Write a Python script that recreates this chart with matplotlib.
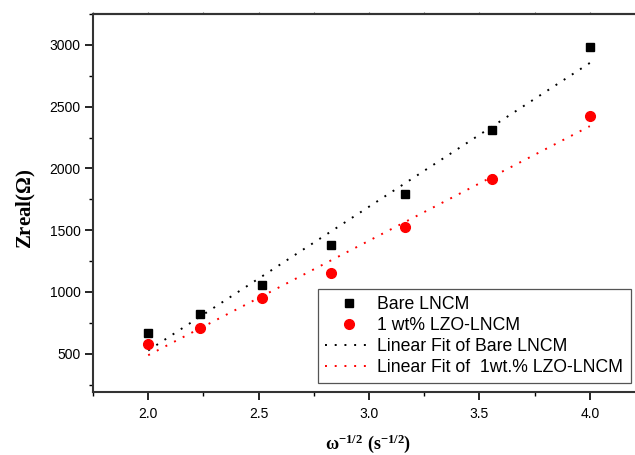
import numpy as np
import matplotlib
matplotlib.use("Agg")
import matplotlib.pyplot as plt

plt.rcParams['mathtext.fontset'] = 'custom'
plt.rcParams['mathtext.rm'] = 'Liberation Serif:bold'
plt.rcParams['mathtext.it'] = 'Liberation Serif:bold'
plt.rcParams['mathtext.bf'] = 'Liberation Serif:bold'

x = [2.0, 2.236, 2.515, 2.828, 3.162, 3.557, 4.0]
bare = [664, 821, 1058, 1382, 1795, 2307, 2986]
lzo = [579, 705, 953, 1153, 1522, 1918, 2423]

label_bare = "Bare LNCM"
label_lzo = "1 wt% LZO-LNCM"
label_fit_bare = "Linear Fit of Bare LNCM"
label_fit_lzo = "Linear Fit of  1wt.% LZO-LNCM"

xticks = [2.0, 2.5, 3.0, 3.5, 4.0]
yticks = [500, 1000, 1500, 2000, 2500, 3000]

fig = plt.figure(figsize=(6.35, 4.55), dpi=100)
L, B = 93/635, (455-392)/455
W, H = (645-93)/635, (392-14)/455
ax = fig.add_axes([L, B, W, H])

xa = np.array(x)
xf = np.array([xa.min(), xa.max()])
pb = np.polyfit(xa, bare, 1)
pl = np.polyfit(xa, lzo, 1)

ax.plot(x, bare, 's', color='black', ms=6.2, ls='none', label=label_bare, zorder=3)
ax.plot(x, lzo, 'o', color='red', ms=7, ls='none', label=label_lzo, zorder=3)
ax.plot(xf, np.polyval(pb, xf), color='black', lw=1.4, ls=(0, (1, 4)), label=label_fit_bare)
ax.plot(xf, np.polyval(pl, xf), color='red', lw=1.4, ls=(0, (1, 4)), label=label_fit_lzo)

ax.set_xlim(1.75, 4.25)
ax.set_ylim(190, 3250)
ax.set_xticks(xticks)
ax.set_xticklabels([f"{v:.1f}" for v in xticks])
ax.set_yticks(yticks)
ax.set_xticks(np.arange(1.75, 4.26, 0.25), minor=True)
ax.set_yticks(np.arange(250, 3251, 250), minor=True)
ax.tick_params(axis='both', which='major', direction='out', length=6, width=1.2,
               labelsize=10, labelfontfamily='Liberation Sans', colors='black')
ax.tick_params(axis='both', which='minor', direction='out', length=3, width=1.0)
ax.tick_params(axis='x', which='major', pad=5)
ax.tick_params(axis='y', which='major', pad=3)
for s in ax.spines.values():
    s.set_linewidth(1.5)
    s.set_color('#333333')
ax.spines['right'].set_visible(False)

top = ax.secondary_xaxis('top')
top.set_xticks(xticks)
top.set_xticks(np.arange(1.75, 4.26, 0.25), minor=True)
top.tick_params(axis='x', which='both', direction='out', length=1.5, width=0.8,
                labeltop=False, colors='#666666')
top.spines['top'].set_linewidth(1.5)
top.spines['top'].set_color('#333333')

ax.set_ylabel(r'$\mathrm{Zreal(\Omega)}$', fontsize=15)
ax.yaxis.set_label_coords((38-93)/552, (392-208.5)/378)
ax.set_xlabel(r'$\mathrm{\omega^{-1/2}\ (s^{-1/2})}$', fontsize=13)
ax.xaxis.set_label_coords((368-93)/552, -0.108)
ax.xaxis.label.set_va('top')

leg = ax.legend(loc='upper left', borderaxespad=0, fancybox=False, framealpha=1,
                edgecolor='#555555',
                prop={'family': 'Liberation Sans', 'size': 12.7}, handlelength=2.7,
                handletextpad=0.25, labelspacing=0.22, borderpad=0.42)
leg.set_bbox_to_anchor((318/635, (455-289)/455), transform=fig.transFigure)
leg.get_frame().set_linewidth(0.9)

fig.savefig("out.png", dpi=100)
